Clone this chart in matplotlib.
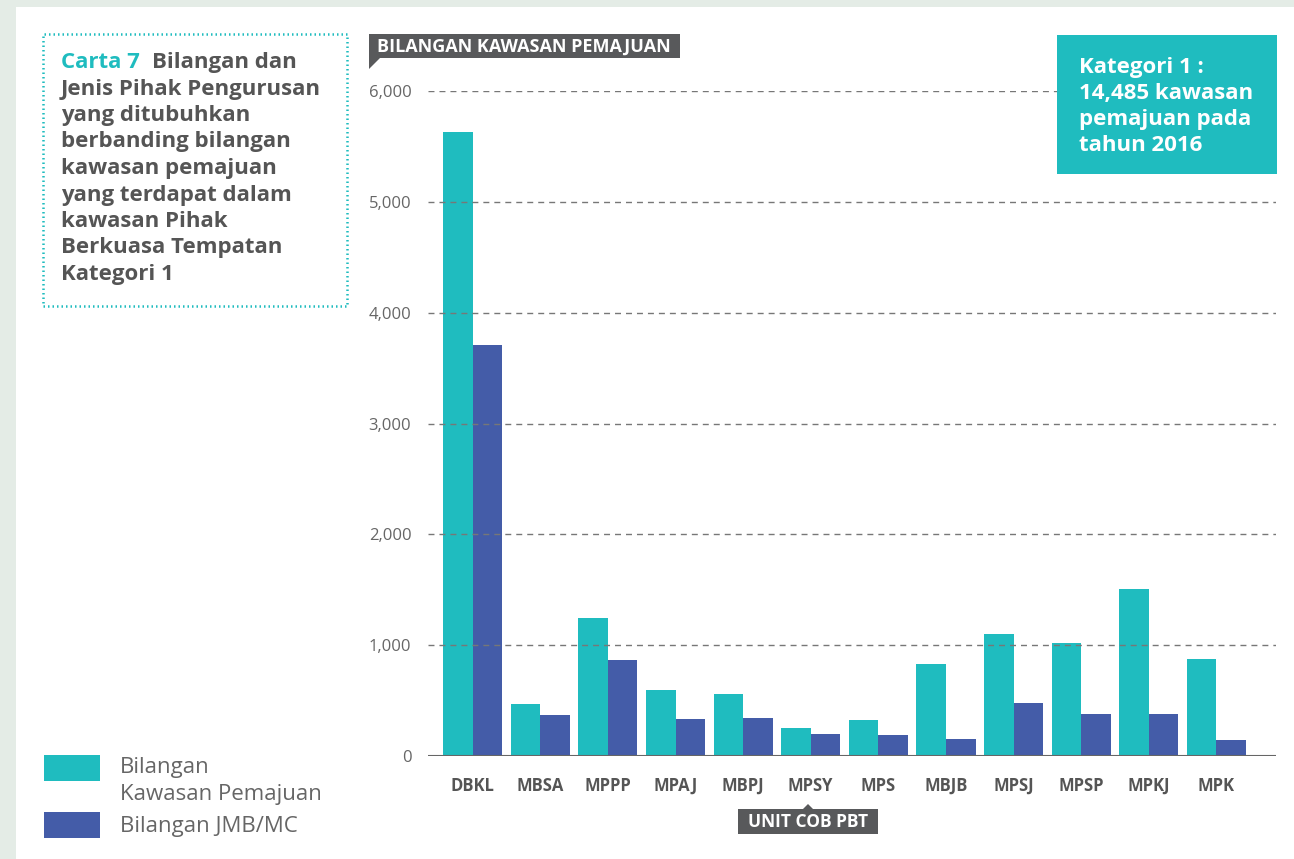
import matplotlib.pyplot as plt
import numpy as np
from matplotlib.patches import Rectangle, Polygon

categories = ["DBKL", "MBSA", "MPPP", "MPAJ", "MBPJ", "MPSY", "MPS", "MBJB", "MPSJ", "MPSP", "MPKJ", "MPK"]
kawasan = [5630, 469, 1245, 595, 559, 253, 325, 830, 1101, 1020, 1507, 875]
jmb_mc = [3708, 370, 866, 334, 343, 199, 190, 153, 478, 379, 379, 144]
y_ticks = [0, 1000, 2000, 3000, 4000, 5000, 6000]

title_lines = ["Jenis Pihak Pengurusan", "yang ditubuhkan", "berbanding bilangan",
               "kawasan pemajuan", "yang terdapat dalam", "kawasan Pihak",
               "Berkuasa Tempatan", "Kategori 1"]
box_lines = ["Kategori 1 :", "14,485 kawasan", "pemajuan pada", "tahun 2016"]

TEAL = "#1fbcbf"
BLUE = "#445ca8"
DARK = "#58595b"
TXT = "#555555"
GREY = "#666666"

plt.rcParams['font.family'] = ['Open Sans', 'DejaVu Sans']

W, H = 1294, 859
def fx(x):
    return x / W
def fy(y):
    return 1 - y / H

fig = plt.figure(figsize=(12.94, 8.59), dpi=100)
fig.patch.set_facecolor("#e4ece6")
fig.add_artist(Rectangle((fx(16), 0), 1 - fx(16), fy(7), transform=fig.transFigure,
                         facecolor="white", edgecolor="none", zorder=0))

ax = fig.add_axes([fx(428), fy(756), fx(1276) - fx(428), fy(91) - fy(756)])
ax.set_facecolor("none")

x = np.arange(len(categories))
bw = 0.437
ax.bar(x - bw / 2, kawasan, width=bw, color=TEAL, zorder=2)
ax.bar(x + bw / 2, jmb_mc, width=bw, color=BLUE, zorder=2)

for t in y_ticks[1:]:
    ax.axhline(t, color="#777777", lw=1.0, ls=(0, (4.3, 3.6)), zorder=3)
ax.axhline(0, color="#666666", lw=1.5, zorder=4)

ax.set_xlim(-0.66, 11.88)
ax.set_ylim(0, 6000)
ax.set_yticks(y_ticks)
ax.set_yticklabels([f"{t:,}" for t in y_ticks], color=GREY, fontsize=12)
ax.set_xticks(x)
ax.set_xticklabels(categories, color=TXT, fontsize=12, fontweight="bold")
ax.tick_params(axis="y", length=0, pad=12)
ax.tick_params(axis="x", length=0, pad=15)
for s in ax.spines.values():
    s.set_visible(False)

# title box
fig.add_artist(Rectangle((fx(43), fy(306)), fx(347) - fx(43), fy(34) - fy(306), transform=fig.transFigure,
                         facecolor="none", edgecolor=TEAL, lw=1.8, ls=(0, (0.6, 1.2))))
fig.text(fx(61), fy(68), "Carta 7", color=TEAL, fontsize=16, fontweight="bold", va="baseline")
fig.text(fx(152), fy(68), "Bilangan dan", color=TXT, fontsize=16, fontweight="bold", va="baseline")
for i, line in enumerate(title_lines):
    fig.text(fx(61), fy(68 + 26.5 * (i + 1)), line, color=TXT, fontsize=16, fontweight="bold", va="baseline")

# y-axis tag
fig.add_artist(Rectangle((fx(369), fy(58)), fx(680) - fx(369), fy(34) - fy(58), transform=fig.transFigure,
                         facecolor=DARK, edgecolor="none"))
fig.add_artist(Polygon([(fx(369), fy(57)), (fx(381), fy(57)), (fx(369), fy(69))], closed=True,
                       transform=fig.transFigure, facecolor=DARK, edgecolor="none"))
fig.text(fx(524), fy(46.5), "BILANGAN KAWASAN PEMAJUAN", color="white", fontsize=13, fontweight="bold",
         ha="center", va="center")

# x-axis tag
fig.add_artist(Rectangle((fx(738), fy(834)), fx(878) - fx(738), fy(809) - fy(834), transform=fig.transFigure,
                         facecolor=DARK, edgecolor="none"))
fig.add_artist(Polygon([(fx(802), fy(810)), (fx(814), fy(810)), (fx(808), fy(804))], closed=True,
                       transform=fig.transFigure, facecolor=DARK, edgecolor="none"))
fig.text(fx(808), fy(822), "UNIT COB PBT", color="white", fontsize=12.5, fontweight="bold",
         ha="center", va="center")

# Kategori box
fig.add_artist(Rectangle((fx(1057), fy(174)), fx(1277) - fx(1057), fy(35) - fy(174), transform=fig.transFigure,
                         facecolor=TEAL, edgecolor="none"))
for i, line in enumerate(box_lines):
    fig.text(fx(1079), fy(73 + 26 * i), line, color="white", fontsize=16, fontweight="bold", va="baseline")

# legend
fig.add_artist(Rectangle((fx(44), fy(781)), fx(100) - fx(44), fy(755) - fy(781), transform=fig.transFigure,
                         facecolor=TEAL, edgecolor="none"))
fig.add_artist(Rectangle((fx(44), fy(838)), fx(100) - fx(44), fy(812) - fy(838), transform=fig.transFigure,
                         facecolor=BLUE, edgecolor="none"))
fig.text(fx(120), fy(773), "Bilangan", color=GREY, fontsize=16, va="baseline")
fig.text(fx(120), fy(800), "Kawasan Pemajuan", color=GREY, fontsize=16, va="baseline")
fig.text(fx(120), fy(832), "Bilangan JMB/MC", color=GREY, fontsize=16, va="baseline")

fig.savefig("out.png", dpi=100)
